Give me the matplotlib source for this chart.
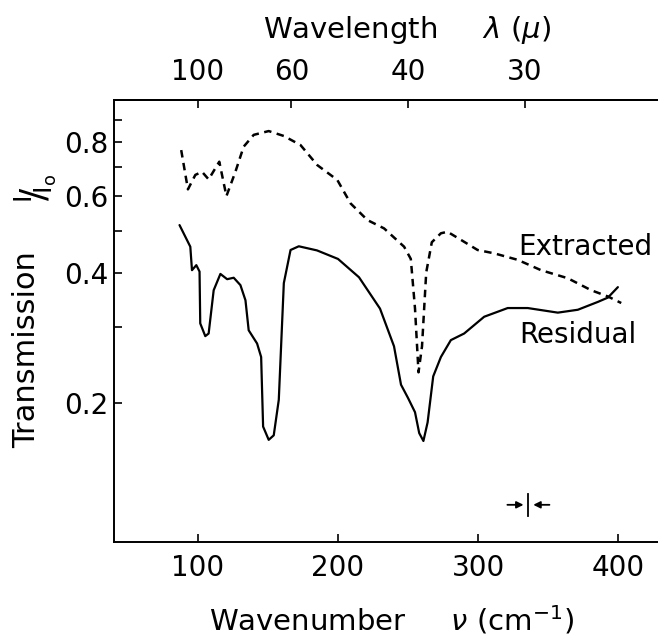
import matplotlib
matplotlib.use("Agg")
import matplotlib.pyplot as plt
from matplotlib.ticker import FixedLocator, NullLocator, FixedFormatter

# ---------------- data ----------------
residual_wn = [86.8, 94.5, 95.7, 98.8, 101.1, 101.6, 105.2, 107.6, 111.2, 116.0,
               120.8, 125.5, 130.3, 133.9, 136.2, 142.2, 145.1, 146.5, 150.5, 154.1,
               157.7, 161.3, 166.1, 172, 185, 200, 215, 230, 240, 245, 250, 255,
               258, 261, 264, 268, 273.5, 280.6, 290.1, 304.4, 321.2, 335.5, 357.0,
               371.3, 385.6, 392.8, 399.9]
residual_T = [0.515, 0.459, 0.405, 0.416, 0.402, 0.305, 0.285, 0.289, 0.364, 0.397,
              0.386, 0.389, 0.374, 0.345, 0.294, 0.274, 0.255, 0.176, 0.164, 0.168,
              0.203, 0.378, 0.451, 0.46, 0.45, 0.43, 0.39, 0.33, 0.27, 0.22, 0.205, 0.19,
              0.17, 0.163, 0.18, 0.23, 0.255, 0.279, 0.289, 0.316, 0.331, 0.331, 0.323,
              0.328, 0.342, 0.350, 0.370]

extracted_wn = [88.0, 92.8, 98.1, 102.9, 107.6, 115.2, 120.3, 126.7, 132.6, 139.8,
                150.5, 161.3, 173.2, 185.2, 199.5, 209.0, 221.0, 232.9, 247.2, 252,
                255, 257.5, 260, 263, 267, 273.5, 278.2, 287.8, 299.7, 311.6, 328.3,
                345.0, 364.1, 380.8, 392.8, 402.3]
extracted_T = [0.768, 0.623, 0.673, 0.684, 0.657, 0.722, 0.601, 0.684, 0.782, 0.833,
               0.850, 0.828, 0.789, 0.709, 0.655, 0.578, 0.529, 0.506, 0.459, 0.43,
               0.33, 0.235, 0.27, 0.40, 0.47, 0.493, 0.497, 0.476, 0.451, 0.443, 0.428,
               0.405, 0.388, 0.364, 0.352, 0.340]

x_ticks = [100, 200, 300, 400]
y_major = [0.2, 0.4, 0.6, 0.8]
y_minor = [0.3, 0.5, 0.7, 0.9]
top_wavelengths = [100, 60, 40, 30]          # microns
resolution_wn = 336
resolution_T = 0.116

# ---------------- figure ----------------
plt.rcParams['font.family'] = ['DejaVu Sans']
fig = plt.figure(figsize=(6.58, 6.37), dpi=100)
ax = fig.add_axes([114 / 658, 1 - 541.7 / 637, 1 - 114 / 658 + 0.002, (541.7 - 100) / 637])

ax.plot(residual_wn, residual_T, color='black', lw=1.6, solid_capstyle='round')
ax.plot(extracted_wn, extracted_T, color='black', lw=1.8, dashes=(3.0, 2.2))

ax.set_yscale('log')
ax.set_xlim(40, 429.5)
ax.set_ylim(0.0953, 1.003)

ax.spines['right'].set_visible(False)
for s in ['left', 'bottom', 'top']:
    ax.spines[s].set_linewidth(1.4)

ax.xaxis.set_major_locator(FixedLocator(x_ticks))
ax.xaxis.set_minor_locator(NullLocator())
ax.yaxis.set_major_locator(FixedLocator(y_major))
ax.yaxis.set_major_formatter(FixedFormatter([str(v) for v in y_major]))
ax.yaxis.set_minor_locator(FixedLocator(y_minor))
ax.yaxis.set_minor_formatter(FixedFormatter([''] * len(y_minor)))
ax.tick_params(axis='both', which='both', direction='in', length=6, width=1.2,
               labelsize=20)
ax.tick_params(axis='x', pad=9)
ax.tick_params(axis='y', pad=4)

# top axis: wavelength in microns
top = ax.secondary_xaxis('top', functions=(lambda v: v, lambda v: v))
top.set_xticks([10000.0 / w for w in top_wavelengths])
top.set_xticklabels([str(w) for w in top_wavelengths])
top.tick_params(direction='in', length=6, width=1.2, labelsize=20, pad=10)
top.spines['top'].set_linewidth(1.4)

fig.text(407 / 658, 1 - 30 / 637, r'Wavelength     $\lambda$ ($\mu$)', fontsize=21,
         ha='center', va='center')
fig.text(392 / 658, 1 - 620 / 637, r'Wavenumber     $\nu$ (cm$^{-1}$)', fontsize=21,
         ha='center', va='center')
fig.text(27 / 658, 1 - 350 / 637, 'Transmission', fontsize=22, rotation=90,
         ha='center', va='center')
fig.text(35 / 658, 1 - 188 / 637, r'$^{\rm I}\!/\!_{\rm I_o}$', rotation=90,
         fontsize=26, ha='center', va='center')

ax.annotate('Extracted', xy=(585 / 658, 1 - 247 / 637), xycoords='figure fraction',
            ha='center', va='center', fontsize=20)
ax.annotate('Residual', xy=(578 / 658, 1 - 335 / 637), xycoords='figure fraction',
            ha='center', va='center', fontsize=20)

# spectral resolution marker  ->|<-
ax.plot([resolution_wn, resolution_wn], [resolution_T * 0.94, resolution_T * 1.06],
        color='black', lw=1.3)
ax.annotate('', xy=(resolution_wn - 1.5, resolution_T), xytext=(resolution_wn - 17, resolution_T),
            arrowprops=dict(arrowstyle='-|>', color='black', lw=1.3, mutation_scale=10))
ax.annotate('', xy=(resolution_wn + 1.5, resolution_T), xytext=(resolution_wn + 17, resolution_T),
            arrowprops=dict(arrowstyle='-|>', color='black', lw=1.3, mutation_scale=10))

fig.savefig('out.png', dpi=100)
